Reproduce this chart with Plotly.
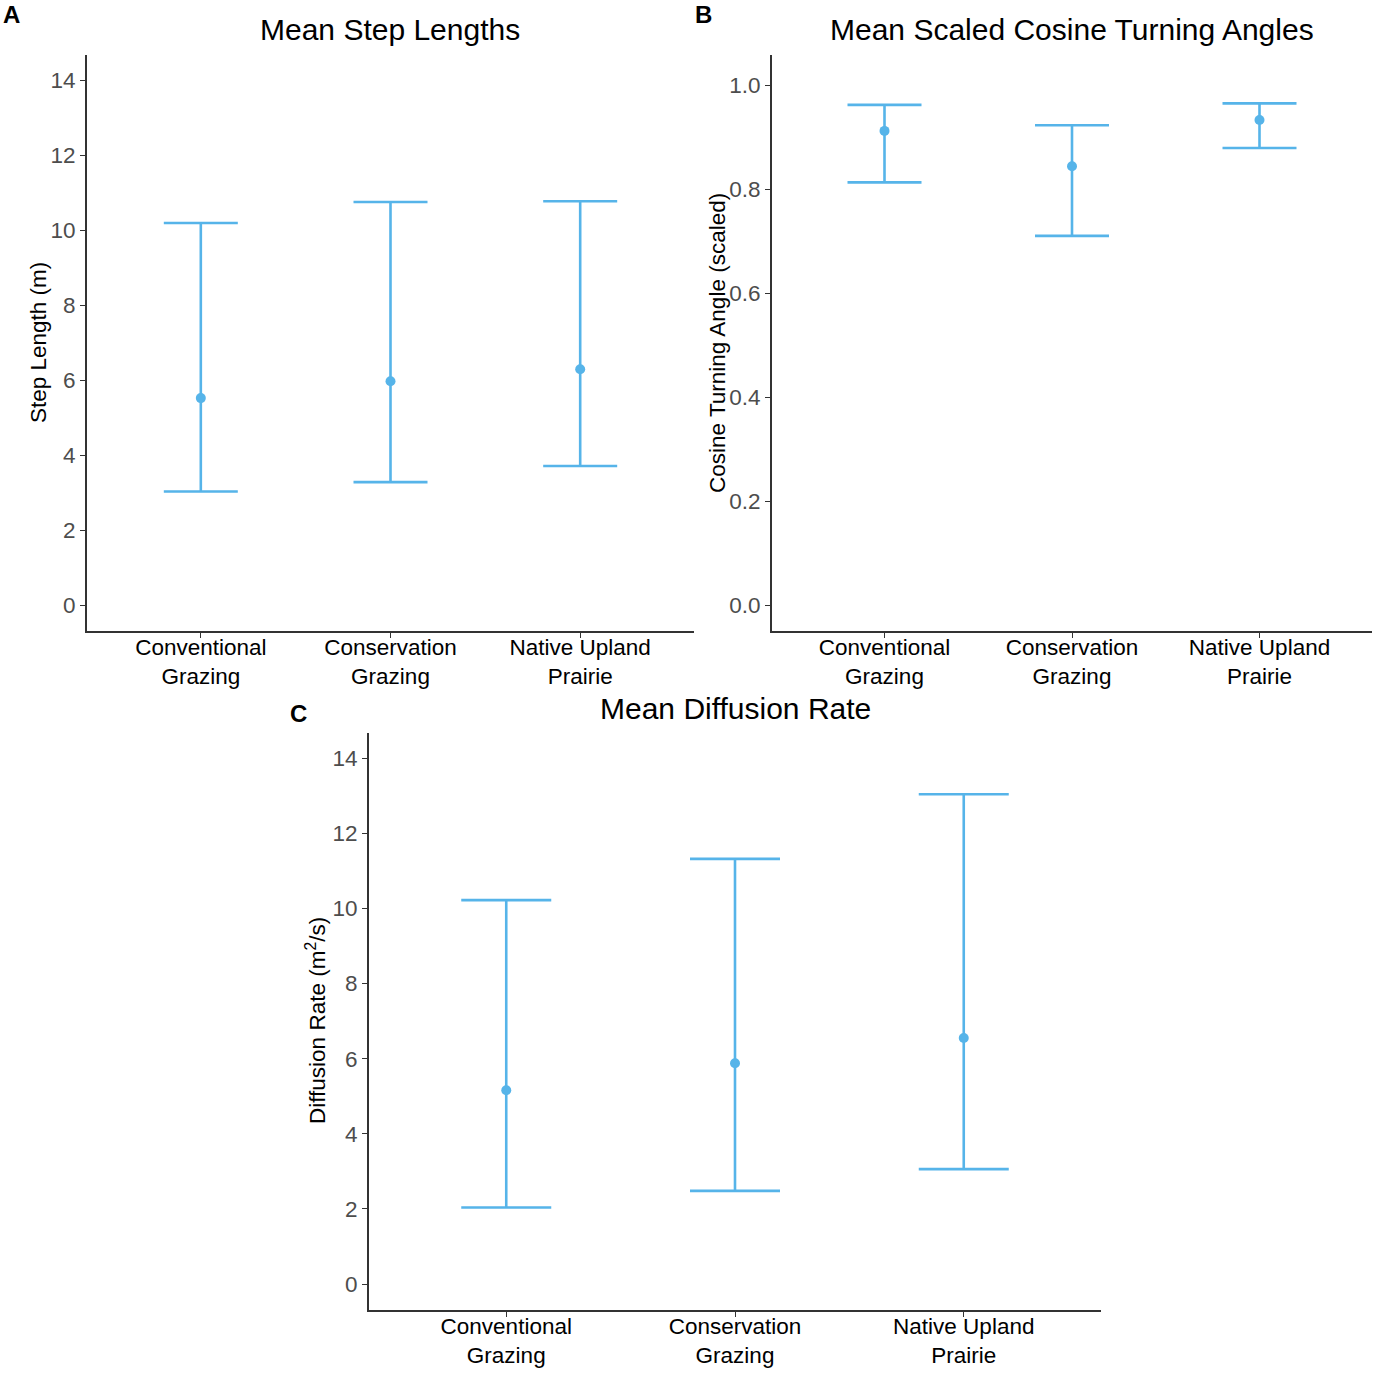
import plotly.graph_objects as go

habitats = ["Conventional<br>Grazing", "Conservation<br>Grazing", "Native Upland<br>Prairie"]
positions = [1, 2, 3]

step_mean = [5.52, 5.97, 6.29]
step_low = [3.03, 3.28, 3.71]
step_high = [10.19, 10.75, 10.77]

turn_mean = [0.912, 0.844, 0.933]
turn_low = [0.813, 0.710, 0.879]
turn_high = [0.962, 0.923, 0.965]

diff_mean = [5.16, 5.88, 6.55]
diff_low = [2.04, 2.48, 3.06]
diff_high = [10.22, 11.32, 13.04]

BLUE = "#56B4E9"
W, H = 1387, 1373
FONT = "Liberation Sans, Arial, sans-serif"


def px_x(p):
    return p / W


def px_y(p):
    return 1 - p / H


def errorbar_trace(means, lows, highs, xa, ya, cap):
    return go.Scatter(
        x=positions,
        y=means,
        mode="markers",
        marker=dict(color=BLUE, size=10),
        error_y=dict(
            type="data",
            symmetric=False,
            array=[h - m for h, m in zip(highs, means)],
            arrayminus=[m - l for m, l in zip(means, lows)],
            color=BLUE,
            thickness=2.6,
            width=cap,
        ),
        xaxis=xa,
        yaxis=ya,
        showlegend=False,
        hoverinfo="y",
    )


fig = go.Figure()
fig.add_trace(errorbar_trace(step_mean, step_low, step_high, "x", "y", 37))
fig.add_trace(errorbar_trace(turn_mean, turn_low, turn_high, "x2", "y2", 37))
fig.add_trace(errorbar_trace(diff_mean, diff_low, diff_high, "x3", "y3", 45))

xaxis_style = dict(
    range=[0.4, 3.6],
    tickvals=positions,
    ticktext=habitats,
    showline=True,
    linecolor="#333333",
    linewidth=1.8,
    ticks="outside",
    ticklen=5,
    tickcolor="#333333",
    ticklabelstandoff=-10,
    tickfont=dict(size=22.5, color="black", family=FONT),
    showgrid=False,
    zeroline=False,
    fixedrange=True,
)
yaxis_style = dict(
    showline=True,
    linecolor="#333333",
    linewidth=1.8,
    ticks="outside",
    ticklen=5,
    tickcolor="#333333",
    tickfont=dict(size=22.5, color="#4D4D4D", family=FONT),
    showgrid=False,
    zeroline=False,
    fixedrange=True,
)

top_row = [px_y(631), px_y(55)]
bottom_row = [px_y(1310), px_y(733)]

fig.update_layout(
    width=W,
    height=H,
    margin=dict(l=0, r=0, t=0, b=0),
    paper_bgcolor="white",
    plot_bgcolor="white",
    font=dict(family=FONT, color="black"),
    xaxis=dict(xaxis_style, domain=[px_x(87), px_x(694)], anchor="y"),
    yaxis=dict(yaxis_style, domain=top_row, anchor="x",
               range=[-0.69, 14.67], tickvals=[0, 2, 4, 6, 8, 10, 12, 14]),
    xaxis2=dict(xaxis_style, domain=[px_x(772), px_x(1372)], anchor="y2"),
    yaxis2=dict(yaxis_style, domain=top_row, anchor="x2",
                range=[-0.05, 1.058], tickvals=[0, 0.2, 0.4, 0.6, 0.8, 1.0],
                tickformat=".1f"),
    xaxis3=dict(xaxis_style, domain=[px_x(369), px_x(1101)], anchor="y3"),
    yaxis3=dict(yaxis_style, domain=bottom_row, anchor="x3",
                range=[-0.69, 14.67], tickvals=[0, 2, 4, 6, 8, 10, 12, 14]),
)

# titles, axis titles and panel letters
texts = [
    ("Mean Step Lengths", 390, 30, 30, 0),
    ("Mean Scaled Cosine Turning Angles", 1072, 30, 30, 0),
    ("Mean Diffusion Rate", 735, 709, 30, 0),
    ("Step Length (m)", 38, 343, 22.5, -90),
    ("Cosine Turning Angle (scaled)", 717, 343, 22.5, -90),
    ("Diffusion Rate (m<sup>2</sup>/s)", 316, 1021, 22.5, -90),
    ("<b>A</b>", 11, 15, 24, 0),
    ("<b>B</b>", 703, 15, 24, 0),
    ("<b>C</b>", 298, 713, 24, 0),
]
for txt, x, y, size, angle in texts:
    fig.add_annotation(
        text=txt,
        x=px_x(x),
        y=px_y(y),
        xref="paper",
        yref="paper",
        xanchor="center",
        yanchor="middle",
        showarrow=False,
        textangle=angle,
        font=dict(size=size, color="black", family=FONT),
    )

# drop the page margin so the figure fills the window exactly
fig.write_html(
    "out.html",
    config={"displayModeBar": False},
    post_script="document.body.style.margin='0';document.body.style.overflow='hidden';",
)
